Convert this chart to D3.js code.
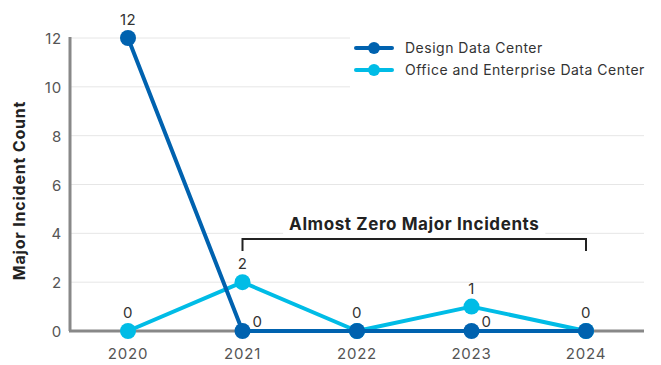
<!DOCTYPE html>
<html>
<head>
<meta charset="utf-8">
<script src="https://cdn.jsdelivr.net/npm/d3@7"></script>
<style>
  body { margin: 0; background: #fff; }
  svg { display: block; font-family: Inter, "Open Sans", sans-serif; }
</style>
</head>
<body>
<script>
const years = ["2020", "2021", "2022", "2023", "2024"]
const designValues = [12, 0, 0, 0, 0]
const officeValues = [0, 2, 0, 1, 0]
const yTicks = [0, 2, 4, 6, 8, 10, 12]
const seriesNames = ["Design Data Center", "Office and Enterprise Data Center"]
const colors = ["#0062AF", "#00BCE6"]
// which label goes where: "top" or "right", null = hidden
const designLabelPos = ["top", "right", "top", "right", "top"]
const officeLabelPos = ["top", "top", null, "top", null]
const annotation = "Almost Zero Major Incidents"

const width = 661, height = 365
const margin = {left: 70, right: 17, top: 38, bottom: 34}

const svg = d3.select("body").append("svg")
    .attr("width", width)
    .attr("height", height)

const x = d3.scalePoint()
    .domain(years)
    .range([128, 586])

const y = d3.scaleLinear()
    .domain([0, 12])
    .range([height - margin.bottom, margin.top])

// gridlines
svg.append("g")
  .selectAll("line")
  .data(yTicks.filter(d => d > 0))
  .join("line")
    .attr("x1", margin.left)
    .attr("x2", width - margin.right)
    .attr("y1", d => y(d))
    .attr("y2", d => y(d))
    .attr("stroke", "#e6e6e6")
    .attr("stroke-width", 1)

// y tick labels
svg.append("g")
  .selectAll("text")
  .data(yTicks)
  .join("text")
    .attr("x", 62)
    .attr("y", d => y(d) + 6)
    .attr("text-anchor", "end")
    .attr("fill", "#555")
    .attr("font-size", 15)
    .attr("letter-spacing", 0.8)
    .text(d => d)

// x tick labels
svg.append("g")
  .selectAll("text")
  .data(years)
  .join("text")
    .attr("x", d => x(d))
    .attr("y", height - 6)
    .attr("text-anchor", "middle")
    .attr("fill", "#555")
    .attr("font-size", 15)
    .attr("letter-spacing", 0.8)
    .text(d => d)

// y axis title
svg.append("text")
    .attr("transform", `translate(25,${(y(0) + y(12)) / 2 + 6}) rotate(-90)`)
    .attr("text-anchor", "middle")
    .attr("font-size", 16)
    .attr("font-weight", 700)
    .attr("letter-spacing", 0.8)
    .attr("fill", "#222")
    .text("Major Incident Count")

// axes lines
svg.append("line")
    .attr("x1", margin.left).attr("x2", margin.left)
    .attr("y1", y(12) - 1).attr("y2", y(0))
    .attr("stroke", "#888").attr("stroke-width", 3)
svg.append("line")
    .attr("x1", margin.left - 1).attr("x2", width - margin.right)
    .attr("y1", y(0)).attr("y2", y(0))
    .attr("stroke", "#888").attr("stroke-width", 3)

// annotation bracket
const bx1 = x("2021"), bx2 = x("2024"), by = 239
svg.append("path")
    .attr("d", `M${bx1},${by + 12}V${by}H${bx2}V${by + 12}`)
    .attr("fill", "none")
    .attr("stroke", "#222")
    .attr("stroke-width", 2)
const annoBg = svg.append("rect").attr("fill", "#fff")
const annoText = svg.append("text")
    .attr("x", (bx1 + bx2) / 2)
    .attr("y", 230)
    .attr("text-anchor", "middle")
    .attr("font-size", 17)
    .attr("font-weight", 700)
    .attr("letter-spacing", 0.6)
    .attr("fill", "#222")
    .text(annotation)
const bb = annoText.node().getBBox()
annoBg
    .attr("x", bb.x - 6).attr("y", bb.y)
    .attr("width", bb.width + 12).attr("height", bb.height + 2)

const line = d3.line()
    .x((d, i) => x(years[i]))
    .y(d => y(d))

function drawSeries(values, color, labelPos) {
  const g = svg.append("g")
  g.append("path")
      .datum(values)
      .attr("d", line)
      .attr("fill", "none")
      .attr("stroke", color)
      .attr("stroke-width", 4)
      .attr("stroke-linejoin", "round")
  g.selectAll("circle")
    .data(values)
    .join("circle")
      .attr("cx", (d, i) => x(years[i]))
      .attr("cy", d => y(d))
      .attr("r", 8)
      .attr("fill", color)
  g.selectAll("text")
    .data(values.map((v, i) => ({v, i, pos: labelPos[i]})).filter(d => d.pos))
    .join("text")
      .attr("x", d => x(years[d.i]) + (d.pos === "right" ? 15 : 0))
      .attr("y", d => y(d.v) + (d.pos === "right" ? -4 : -13))
      .attr("text-anchor", "middle")
      .attr("font-size", 15)
      .attr("letter-spacing", 0.5)
      .attr("fill", "#333")
      .text(d => d.v)
}

drawSeries(officeValues, colors[1], officeLabelPos)
drawSeries(designValues, colors[0], designLabelPos)

// legend
svg.append("rect")
    .attr("x", 350).attr("y", 30)
    .attr("width", 311).attr("height", 64)
    .attr("fill", "#fff")
const legend = svg.append("g")
  .selectAll("g")
  .data(seriesNames)
  .join("g")
    .attr("transform", (d, i) => `translate(356,${48 + i * 22})`)
legend.append("line")
    .attr("x1", 0).attr("x2", 36)
    .attr("stroke", (d, i) => colors[i])
    .attr("stroke-width", 4)
    .attr("stroke-linecap", "round")
legend.append("circle")
    .attr("cx", 18).attr("r", 6)
    .attr("fill", (d, i) => colors[i])
legend.append("text")
    .attr("x", 49).attr("y", 5)
    .attr("font-size", 14)
    .attr("letter-spacing", 0.5)
    .attr("fill", "#333")
    .text(d => d)
</script>
</body>
</html>
